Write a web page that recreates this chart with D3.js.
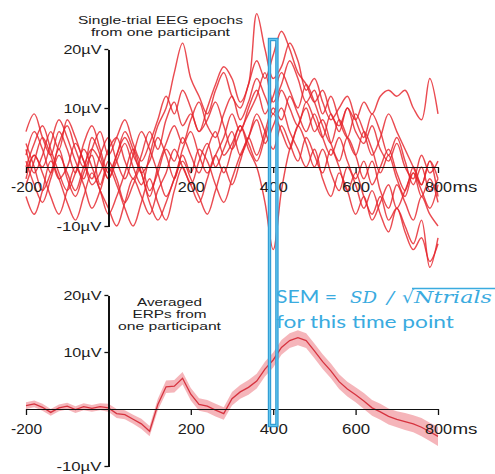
<!DOCTYPE html>
<html>
<head>
<meta charset="utf-8">
<script src="https://cdn.jsdelivr.net/npm/d3@7"></script>
<style>
  html, body { margin: 0; padding: 0; background: #fff; }
  svg { display: block; }
  text { font-family: "Liberation Sans", Arial, Helvetica, sans-serif; fill: #1c1c1c; }
</style>
</head>
<body>
<svg id="chart" width="495" height="474"></svg>
<script>
// Sample times (ms) shared by every series, one sample each 20 ms
const times = d3.range(-200, 801, 20);

// Single-trial EEG epochs (µV), one array per trial
const trial1  = [2, 6, 3, -1, 4, 7, 3, 0, 5, 2, -2, 1, 4, 0, -3, 2, 7, 10, 16, 21, 15, 12, 9, 13, 16, 12, 10, 14, 18, 15, 19, 23, 20, 16, 14, 11, 13, 9, 7, 10, 6, 4, 7, 3, 1, 4, 0, -2, 2, -1, 1];
const trial2  = [-3, 1, 5, 2, -2, 0, 4, 1, -3, -1, 3, 5, 1, -2, 2, 6, 3, 8, 11, 7, 9, 6, 10, 14, 17, 15, 11, 14, 26, 20, 15, 17, 21, 18, 13, 15, 11, 8, 10, 12, 8, 5, 9, 6, 2, 5, 1, -3, 0, -4, -2];
const trial3  = [4, 0, -4, -1, 3, -2, -5, -1, 2, -3, 1, -2, -6, -3, 0, -4, -1, 3, 1, 5, 2, -1, 3, 6, 2, 4, 7, 3, 0, -6, -14, -4, 3, 7, 10, 6, 8, 4, 1, 5, 2, -2, 1, -4, -7, -3, -6, -9, -5, -8, -10];
const trial4  = [1, -3, -6, -2, 2, -1, -4, 0, 3, 1, -2, 2, 5, 2, -1, -5, 0, 4, 7, 4, 8, 11, 7, 5, 9, 12, 8, 11, 15, 12, 9, 13, 10, 7, 11, 8, 5, 9, 6, 10, 8, 11, 9, 12, 13, 12, 13, 10, 8, 15, 9];
const trial5  = [-2, 2, -1, -5, -8, -4, 0, -3, -7, -4, 0, -3, -7, -10, -6, -2, -6, -9, -4, 0, -3, 1, 4, 0, 3, 6, 2, 5, 9, 6, 3, 7, 4, 1, 5, 2, -1, 3, 0, -4, -1, -5, -8, -5, -9, -7, -11, -14, -12, -16, -13];
const trial6  = [6, 9, 5, 2, 6, 3, -1, 4, 7, 3, -1, 2, 6, 3, -1, 1, 5, 2, -2, 3, 6, 2, -1, 2, 5, 9, 6, 10, 13, 9, 12, 16, 13, 10, 14, 11, 7, 4, 8, 5, 2, 6, 3, -1, 2, -2, -5, -1, -4, -7, -3];
const trial7  = [-5, -8, -4, 1, -2, -6, -9, -5, -1, -4, -7, -10, -6, -2, -5, -8, -4, -1, 3, 0, -3, -6, -2, 2, -1, 3, 7, 4, 1, 5, 9, 6, 3, 7, 4, 0, 3, -1, -4, 0, -3, -7, -4, -8, -11, -7, -10, -13, -9, -17, -12];
const trial8  = [3, -1, 2, 6, 3, 8, 5, 1, -2, 2, 5, 1, -2, 2, 6, 3, -1, -5, -2, 2, -1, 3, 1, -3, -6, -2, 2, 5, 8, 4, 7, 10, 6, 3, 0, 3, -2, -5, -1, -4, -8, -5, -9, -6, -3, -7, -4, -1, -5, -2, -6];
const trial9  = [0, 4, 7, 3, -1, -4, -1, 3, 0, -4, -8, -5, -1, 3, -1, -6, -9, -6, -2, 1, -2, -5, -8, -4, 0, -3, 1, 5, 2, 6, 10, 8, 12, 9, 6, 9, 5, 2, 5, 1, -2, 1, -3, 0, 3, -1, -4, 0, -3, 1, -2];
const trial10 = [-1, 2, 0, 4, 8, 5, 1, -2, 3, 6, 2, 5, 8, 4, 1, 4, 8, 12, 9, 13, 10, 6, 8, 11, 7, 3, 6, 9, 12, 16, 11, 14, 18, 15, 11, 13, 9, 12, 8, 5, 9, 6, 2, 5, 9, 6, 3, 0, -3, 1, -5];
const trials = [trial1, trial2, trial3, trial4, trial5, trial6, trial7, trial8, trial9, trial10];

// Averaged ERP (µV) and its standard error at each time point
const erpMean = [0.6, 0.9, 0.3, -0.6, 0.2, 0.5, -0.1, 0.4, 0.1, 0.4, 0.2, -0.8, -1.0, -1.8, -2.6, -3.9, 0.8, 3.9, 4.0, 5.4, 2.6, 0.8, 0.5, -0.2, -0.8, 1.8, 3.0, 3.8, 4.9, 7.0, 8.6, 10.8, 12.0, 12.5, 12.0, 10.2, 8.3, 6.7, 4.8, 3.5, 2.5, 1.4, 0.2, -0.5, -1.3, -1.8, -2.2, -2.6, -3.2, -4.0, -4.8];
const erpSem  = [0.6, 0.6, 0.6, 0.6, 0.6, 0.6, 0.6, 0.6, 0.6, 0.6, 0.7, 0.8, 0.8, 0.8, 0.9, 0.9, 1.0, 1.1, 1.1, 1.1, 1.1, 1.1, 1.1, 1.1, 1.1, 1.2, 1.2, 1.3, 1.3, 1.3, 1.3, 1.3, 1.3, 1.3, 1.3, 1.3, 1.3, 1.3, 1.3, 1.3, 1.3, 1.4, 1.4, 1.4, 1.4, 1.4, 1.5, 1.5, 1.6, 1.6, 1.7];

// Axis ticks and labels
const xTicks = [-200, 200, 400, 600, 800];
const xTickLabels = ["-200", "200", "400", "600", "800"];
const yTicks = [-10, 10, 20];
const yTickLabels = ["-10µV", "10µV", "20µV"];
const highlightTime = 400;

const svg = d3.select("#chart");
const red = "#e5232b";
const blue = "#3aabdf";

const x = d3.scaleLinear().domain([-200, 800]).range([26, 438]);
const yTop = d3.scaleLinear().domain([-10, 20]).range([226, 49]);
const yBot = d3.scaleLinear().domain([-10, 20]).range([466, 295]);

// stretch a text element to a given width
function fit(sel, w) {
  sel.attr("textLength", w).attr("lengthAdjust", "spacingAndGlyphs");
}

// ---------- top panel: single trials ----------
const gTop = svg.append("g");
const trialLine = d3.line()
  .x((d, i) => x(times[i]))
  .y(d => yTop(d))
  .curve(d3.curveCatmullRom.alpha(0.5));

gTop.selectAll("path.trial")
  .data(trials)
  .join("path")
  .attr("class", "trial")
  .attr("d", trialLine)
  .attr("fill", "none")
  .attr("stroke", red)
  .attr("stroke-opacity", 0.82)
  .attr("stroke-width", 1.45)
  .attr("stroke-linejoin", "round");

// ---------- bottom panel: averaged ERP with SEM band ----------
const gBot = svg.append("g");
const band = d3.area()
  .x((d, i) => x(times[i]))
  .y0((d, i) => yBot(d - erpSem[i]))
  .y1((d, i) => yBot(d + erpSem[i]))
  .curve(d3.curveLinear);
gBot.append("path")
  .datum(erpMean)
  .attr("d", band)
  .attr("fill", "#f3a2a9")
  .attr("fill-opacity", 0.8);
gBot.append("path")
  .datum(erpMean)
  .attr("d", d3.line().x((d, i) => x(times[i])).y(d => yBot(d)))
  .attr("fill", "none")
  .attr("stroke", "#d6333f")
  .attr("stroke-width", 1.3);

// ---------- axes ----------
const xLabelWidths = {"-200": 31, "200": 27, "400": 28, "600": 28, "800": 27};
const yLabelWidths = {"-10µV": 45, "10µV": 38, "20µV": 38};

function drawAxes(yScale) {
  const g = svg.append("g");
  const x0 = yScale(0);
  const xa = d3.axisBottom(x)
    .tickValues(xTicks)
    .tickFormat((d, i) => xTickLabels[i])
    .tickSize(6)
    .tickSizeOuter(0)
    .tickPadding(9);
  const gx = g.append("g").attr("transform", `translate(0,${x0})`).call(xa);
  gx.selectAll("text")
    .attr("font-size", 14)
    .attr("fill", "#1c1c1c")
    .each(function (d, i) {
      fit(d3.select(this), xLabelWidths[xTickLabels[i]]);
    });
  // unit after the last tick label
  const last = gx.selectAll(".tick").filter(d => d === 800);
  last.append("text")
    .attr("x", 27 / 2 + 0.5)
    .attr("y", 15)
    .attr("dy", "0.71em")
    .attr("font-size", 14)
    .attr("text-anchor", "start")
    .attr("fill", "#1c1c1c")
    .text("ms")
    .call(fit, 25);

  const ya = d3.axisLeft(yScale)
    .tickValues(yTicks)
    .tickFormat((d, i) => yTickLabels[i])
    .tickSize(4)
    .tickSizeOuter(0)
    .tickPadding(3);
  const gy = g.append("g").attr("transform", `translate(${x(0)},0)`).call(ya);
  gy.selectAll("text")
    .attr("font-size", 13)
    .attr("fill", "#1c1c1c")
    .each(function (d, i) { fit(d3.select(this), yLabelWidths[yTickLabels[i]]); });

  g.selectAll(".domain, .tick line").attr("stroke", "#111").attr("stroke-width", 1.3);
  g.selectAll(".domain").attr("shape-rendering", "crispEdges");
}
drawAxes(yTop);
drawAxes(yBot);

// ---------- panel titles ----------
function title(lines, cx, baselines, widths) {
  lines.forEach((s, i) => {
    svg.append("text")
      .attr("x", cx)
      .attr("y", baselines[i])
      .attr("text-anchor", "middle")
      .attr("font-size", 11.5)
      .text(s)
      .call(fit, widths[i]);
  });
}
title(["Single-trial EEG epochs", "from one participant"], 160.5, [23.5, 35.5], [165, 139]);
title(["Averaged", "ERPs from", "one participant"], 169.5, [305.5, 317.5, 329.5], [65, 74, 103]);

// ---------- highlighted time point ----------
const hx0 = x(highlightTime - 9);
const hx1 = x(highlightTime + 9);
const hl = svg.append("g");
[["#2a97cf", 3.4], ["#62c6ef", 1.3]].forEach(([c, w]) => {
  hl.append("rect")
    .attr("x", hx0)
    .attr("y", 39.5)
    .attr("width", hx1 - hx0)
    .attr("height", 386)
    .attr("fill", "none")
    .attr("stroke", c)
    .attr("stroke-width", w);
});

// ---------- SEM annotation ----------
const serif = "'DejaVu Serif', 'Liberation Serif', serif";
const sans = "Lato, 'Open Sans', sans-serif";
function piece(s, x0, w, opts) {
  const t = svg.append("text")
    .attr("x", x0)
    .attr("y", 303)
    .attr("font-size", opts.size)
    .style("font-family", opts.family)
    .style("font-style", opts.italic ? "italic" : "normal")
    .style("font-weight", 400)
    .style("fill", blue)
    .text(s);
  if (w) fit(t, w);
  return t;
}
piece("SEM =", 276, 61, {size: 17.5, family: sans});
piece("SD", 350, 27, {size: 17, family: serif, italic: true});
piece("/", 387, 7, {size: 17, family: serif, italic: true});
piece("√", 402, 12, {size: 17, family: serif});
piece("Ntrials", 414, 78, {size: 17, family: serif, italic: true});
// radical bar over the trial count
svg.append("line")
  .attr("x1", 412).attr("x2", 495)
  .attr("y1", 288.5).attr("y2", 288.5)
  .attr("stroke", blue).attr("stroke-width", 1.3);

svg.append("text")
  .attr("x", 276)
  .attr("y", 328)
  .attr("font-size", 18)
  .style("font-family", sans)
  .style("fill", blue)
  .text("for this time point")
  .call(fit, 178);
</script>
</body>
</html>
